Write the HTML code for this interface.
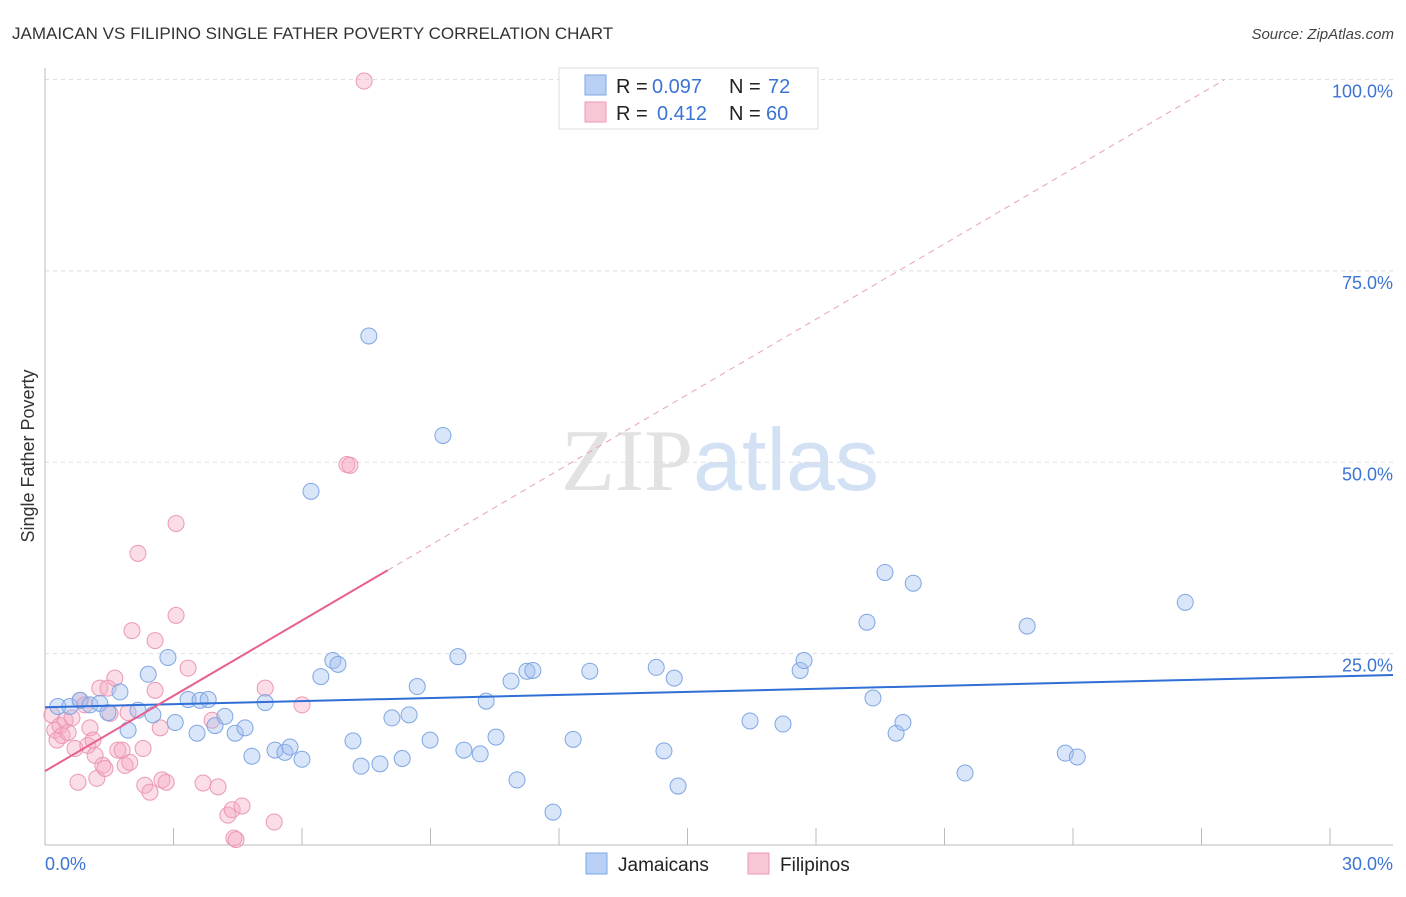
<!DOCTYPE html>
<html><head><meta charset="utf-8"><style>
body{margin:0;background:#fff;font-family:"Liberation Sans",sans-serif}
svg text{font-family:"Liberation Sans",sans-serif}
</style></head><body>
<svg id="chart" width="1406" height="892" xmlns="http://www.w3.org/2000/svg">
<text x="12" y="39" font-size="17" fill="#333">JAMAICAN VS FILIPINO SINGLE FATHER POVERTY CORRELATION CHART</text>
<text x="1394" y="39" font-size="15" fill="#444" text-anchor="end" font-style="italic">Source: ZipAtlas.com</text>
<text x="720" y="490" font-size="88" text-anchor="middle"><tspan fill="#e2e2e2" font-family="Liberation Serif">ZIP</tspan><tspan fill="#d3e1f5">atlas</tspan></text>
<text transform="translate(34,456) rotate(-90)" font-size="18" fill="#333" text-anchor="middle">Single Father Poverty</text>
<g id="grid"></g><g id="marks"></g>
<g>
<rect x="559" y="68" width="259" height="61" fill="#fff" stroke="#ddd"/>
<rect x="585" y="75" width="21" height="20" fill="#b8d0f4" stroke="#7da7e6"/>
<rect x="585" y="102" width="21" height="20" fill="#f8c6d5" stroke="#ec9ab5"/>
<text x="616" y="93" font-size="20" fill="#222">R =</text>
<text x="652" y="93" font-size="20" fill="#3b74d4">0.097</text>
<text x="729" y="93" font-size="20" fill="#222">N =</text>
<text x="768" y="93" font-size="20" fill="#3b74d4">72</text>
<text x="616" y="120" font-size="20" fill="#222">R =</text>
<text x="657" y="120" font-size="20" fill="#3b74d4">0.412</text>
<text x="729" y="120" font-size="20" fill="#222">N =</text>
<text x="766" y="120" font-size="20" fill="#3b74d4">60</text>
</g>
<g>
<rect x="586" y="853" width="21" height="21" fill="#b8d0f4" stroke="#7da7e6"/>
<text x="618" y="871" font-size="19" fill="#222">Jamaicans</text>
<rect x="748" y="853" width="21" height="21" fill="#f8c6d5" stroke="#ec9ab5"/>
<text x="780" y="871" font-size="19" fill="#222">Filipinos</text>
</g>
</svg>
<script>
const yTicks=[25,50,75,100];
const yTickLabels=["25.0%","50.0%","75.0%","100.0%"];
const xTickLabels=["0.0%","30.0%"];
const blueX=[0.30,0.58,0.82,1.05,1.28,1.47,1.75,1.94,2.17,2.41,2.52,2.87,3.04,3.34,3.55,3.62,3.81,3.97,4.20,4.44,4.67,4.83,5.14,5.37,5.60,5.72,6.00,6.21,6.44,6.72,6.84,7.19,7.38,7.56,7.82,8.10,8.34,8.50,8.69,8.99,9.29,9.64,9.78,10.16,10.30,10.53,10.88,11.02,11.25,11.39,11.86,12.33,12.72,14.27,14.45,14.69,14.78,16.46,17.23,17.63,17.72,19.19,19.33,19.61,19.87,20.03,20.27,21.48,22.93,23.82,24.10,26.62];
const blueY=[18.1,18.1,18.9,18.3,18.5,17.3,20.0,15.0,17.6,22.3,17.0,24.5,16.0,19.0,14.6,18.9,19.0,15.6,16.8,14.6,15.3,11.6,18.6,12.4,12.1,12.8,11.2,46.2,22.0,24.1,23.6,13.6,10.3,66.5,10.6,16.6,11.3,17.0,20.7,13.7,53.5,24.6,12.4,11.9,18.8,14.1,21.4,8.5,22.7,22.8,4.3,13.8,22.7,23.2,12.3,21.8,7.7,16.2,15.8,22.8,24.1,29.1,19.2,35.6,14.6,16.0,34.2,9.4,28.6,12.0,11.5,31.7];
const pinkX=[0.16,0.23,0.28,0.35,0.40,0.47,0.54,0.63,0.70,0.77,0.82,0.93,1.00,1.05,1.12,1.17,1.21,1.28,1.35,1.40,1.47,1.52,1.63,1.70,1.80,1.87,1.94,1.98,2.03,2.17,2.29,2.33,2.45,2.57,2.57,2.69,2.73,2.83,3.06,3.06,3.34,3.69,3.90,4.04,4.27,4.37,4.41,4.46,4.60,5.14,5.35,6.00,7.05,7.12,7.45];
const pinkY=[17.0,15.0,13.7,15.6,14.3,16.3,14.7,16.6,12.6,8.2,18.9,18.3,13.0,15.3,13.7,11.7,8.7,20.5,10.4,10.0,20.5,17.2,21.8,12.4,12.4,10.4,17.3,10.8,28.0,38.1,12.6,7.8,6.9,26.7,20.2,15.3,8.5,8.2,42.0,30.0,23.1,8.1,16.3,7.6,3.9,4.6,0.9,0.7,5.1,20.5,3.0,18.3,49.7,49.6,99.8];
const blueFit=[18.0,22.2];
const pinkFit=[9.65,3.28];
const X0=45,X1=1330,Y0=845,Y1=79.5;
const sx=v=>X0+(X1-X0)*v/30, sy=v=>Y0-(Y0-Y1)*v/100;
const NS="http://www.w3.org/2000/svg";
const grid=document.getElementById('grid'),marks=document.getElementById('marks');
function mk(tag,attrs,parent){const e=document.createElementNS(NS,tag);for(const k in attrs)e.setAttribute(k,attrs[k]);parent.appendChild(e);return e;}
yTicks.forEach((t,i)=>{
 const l=mk('line',{x1:X0,x2:1393,y1:sy(t),y2:sy(t),stroke:'#ddd','stroke-dasharray':'4 4'},grid);
 
 
 const tx=mk('text',{x:1393,y:sy(t)+18,'font-size':18,fill:'#3b74d4','text-anchor':'end'},grid);
 tx.textContent=yTickLabels[i];
 
 
});
const ax=mk('line',{x1:X0,x2:1393,y1:Y0,y2:Y0,stroke:'#bbb'},grid);


const ay=mk('line',{x1:X0,x2:X0,y1:68,y2:Y0,stroke:'#bbb'},grid);


for(let i=0;i<=10;i++){
 const t=mk('line',{x1:sx(i*3),x2:sx(i*3),y1:828,y2:Y0,stroke:'#bbb'},grid);
 
 
}
[[0,'start',45],[30,'end',1393]].forEach((d,i)=>{
 const t=mk('text',{x:d[2],y:870,'font-size':18,fill:'#3b74d4','text-anchor':d[1]},grid);
 t.textContent=xTickLabels[i];
 
 
});
const pd=mk('line',{x1:sx(8),y1:sy(pinkFit[0]+pinkFit[1]*8),x2:sx((100-pinkFit[0])/pinkFit[1]),y2:sy(100),stroke:'#e8a0b8','stroke-dasharray':'6 5','stroke-width':1},marks);


pinkX.forEach((x,i)=>{
 const c=mk('circle',{cx:sx(x),cy:sy(pinkY[i]),r:8,fill:'rgba(244,170,195,0.4)',stroke:'#eb98b4','stroke-width':1},marks);
 
 
});
blueX.forEach((x,i)=>{
 const c=mk('circle',{cx:sx(x),cy:sy(blueY[i]),r:8,fill:'rgba(160,190,238,0.4)',stroke:'#7ea6e4','stroke-width':1},marks);
 
 
});
const bl=mk('line',{x1:sx(0),y1:sy(blueFit[0]),x2:1393,y2:sy(blueFit[1]),stroke:'#2f6fd6','stroke-width':2},marks);


const pl=mk('line',{x1:sx(0),y1:sy(pinkFit[0]),x2:sx(8),y2:sy(pinkFit[0]+pinkFit[1]*8),stroke:'#e8608f','stroke-width':2},marks);


</script>
</body></html>
